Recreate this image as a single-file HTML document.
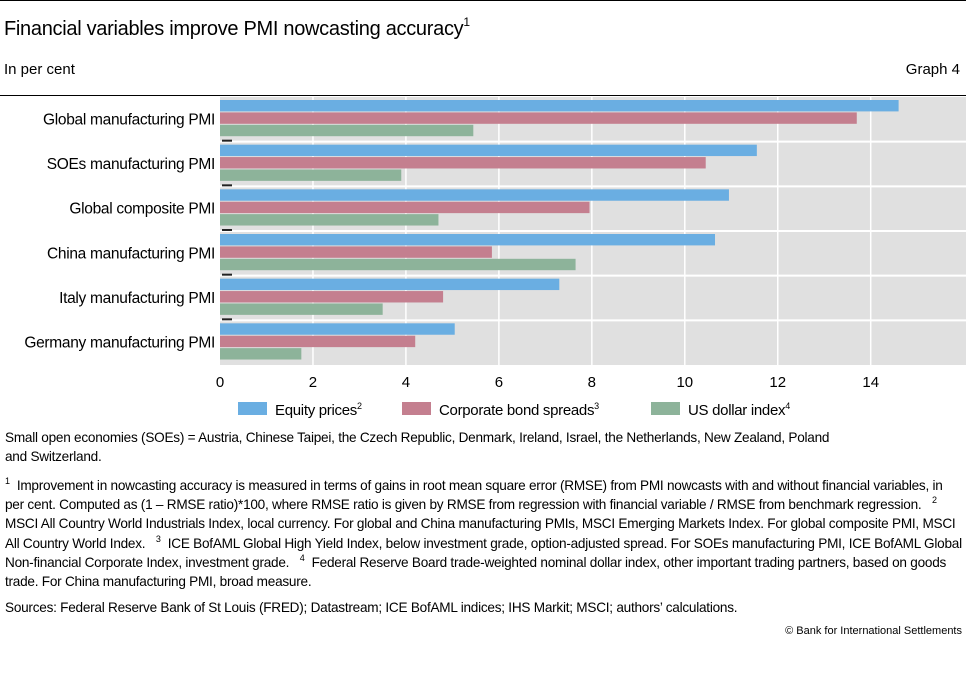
<!DOCTYPE html>
<html><head><meta charset="utf-8"><style>
body{margin:0;width:966px;height:678px;background:#fff;font-family:"Liberation Sans",sans-serif;color:#000;position:relative;overflow:hidden}
.a{position:absolute;white-space:nowrap}
.fn{position:absolute;left:5px;width:958px;font-size:13.6px;line-height:19.2px;letter-spacing:-0.25px}
sup{font-size:9px;vertical-align:6px;line-height:0}
</style></head><body>
<div class="a" style="left:0;top:0;width:966px;height:1px;background:#000"></div>
<div class="a" style="left:4px;top:18px;font-size:20px;letter-spacing:-0.3px">Financial variables improve PMI nowcasting accuracy<sup style="font-size:12px;vertical-align:9px">1</sup></div>
<div class="a" style="left:4px;top:61px;font-size:15px">In per cent</div>
<div class="a" style="right:6px;top:61px;font-size:15px">Graph 4</div>
<div class="a" style="left:0;top:95px;width:966px;height:1px;background:#000"></div>
<svg class="a" style="left:0;top:0" width="966" height="430" id="chart"></svg>
<div class="fn" style="top:428px;width:900px">Small open economies (SOEs) = Austria, Chinese Taipei, the Czech Republic, Denmark, Ireland, Israel, the Netherlands, New Zealand, Poland and&nbsp;Switzerland.</div>
<div class="fn" style="top:476px"><sup>1</sup>&nbsp; Improvement in nowcasting accuracy is measured in terms of gains in root mean square error (RMSE) from PMI nowcasts with and without financial variables, in per cent. Computed as (1 – RMSE ratio)*100, where RMSE ratio is given by RMSE from regression with financial variable / RMSE from benchmark regression. &nbsp; <sup>2</sup>&nbsp; MSCI All Country World Industrials Index, local currency. For global and China manufacturing PMIs, MSCI Emerging Markets Index. For global composite PMI, MSCI All Country World Index. &nbsp; <sup>3</sup>&nbsp; ICE BofAML Global High Yield Index, below investment grade, option-adjusted spread. For SOEs manufacturing PMI, ICE BofAML Global Non-financial Corporate Index, investment grade. &nbsp; <sup>4</sup>&nbsp; Federal Reserve Board trade-weighted nominal dollar index, other important trading partners, based on goods trade. For China manufacturing PMI, broad measure.</div>
<div class="fn" style="top:598px">Sources: Federal Reserve Bank of St Louis (FRED); Datastream; ICE BofAML indices; IHS Markit; MSCI; authors’ calculations.</div>
<div class="a" style="right:4px;top:625px;font-size:11px">© Bank for International Settlements</div>
<script>
const categories=["Global manufacturing PMI","SOEs manufacturing PMI","Global composite PMI","China manufacturing PMI","Italy manufacturing PMI","Germany manufacturing PMI"];
const equity=[14.6,11.55,10.95,10.65,7.3,5.05];
const bonds=[13.7,10.45,7.95,5.85,4.8,4.2];
const dollar=[5.45,3.9,4.7,7.65,3.5,1.75];
const ticks=[0,2,4,6,8,10,12,14];
const seriesNames=["Equity prices","Corporate bond spreads","US dollar index"];
const svg=document.getElementById('chart');const NS="http://www.w3.org/2000/svg";
const X0=220,X1=966,Y0=97,Y1=365,XMAX=16.05;
const x=v=>X0+v/XMAX*(X1-X0);
const rowH=(Y1-Y0)/categories.length;
function mk(t,a){const e=document.createElementNS(NS,t);for(const k in a)e.setAttribute(k,a[k]);svg.appendChild(e);return e;}
let bg=mk('rect',{x:X0,y:Y0,width:X1-X0,height:Y1-Y0,fill:'#e0e0e0'});


ticks.forEach(t=>{if(t>0){let g=mk('line',{x1:x(t),x2:x(t),y1:Y0,y2:Y1,stroke:'#fff','stroke-width':1.5});

}
let l=mk('text',{x:x(t),y:387,'text-anchor':'middle','font-size':15,'font-family':'Liberation Sans'});l.textContent=t;

});
const cols=['#6aaee2','#c47f8f','#8db39a'];const data=[equity,bonds,dollar];
categories.forEach((c,i)=>{const top=Y0+i*rowH;
if(i>0){let s=mk('line',{x1:X0,x2:X1,y1:top,y2:top,stroke:'#fff','stroke-width':2});


let tk=mk('rect',{x:222,y:top-2,width:10,height:2,fill:'#222'});

}
data.forEach((d,j)=>{let b=mk('rect',{x:X0,y:top+3+j*12.4,width:x(d[i])-X0,height:11.4,fill:cols[j]});

});
let lb=mk('text',{x:215,y:top+rowH/2+5,'text-anchor':'end','font-size':15.5,'font-family':'Liberation Sans','letter-spacing':'-0.3'});lb.textContent=c;

});
const lx=[238,402,651];const sups=['2','3','4'];
seriesNames.forEach((n,j)=>{let r=mk('rect',{x:lx[j],y:402,width:29,height:13,fill:cols[j]});


let t=mk('text',{x:lx[j]+37,y:415,'font-size':15,'font-family':'Liberation Sans','letter-spacing':'-0.3'});t.textContent=n;


let ts=document.createElementNS(NS,'tspan');ts.setAttribute('dy','-6');ts.setAttribute('font-size','9');ts.textContent=sups[j];t.appendChild(ts);});
</script>
</body></html>
